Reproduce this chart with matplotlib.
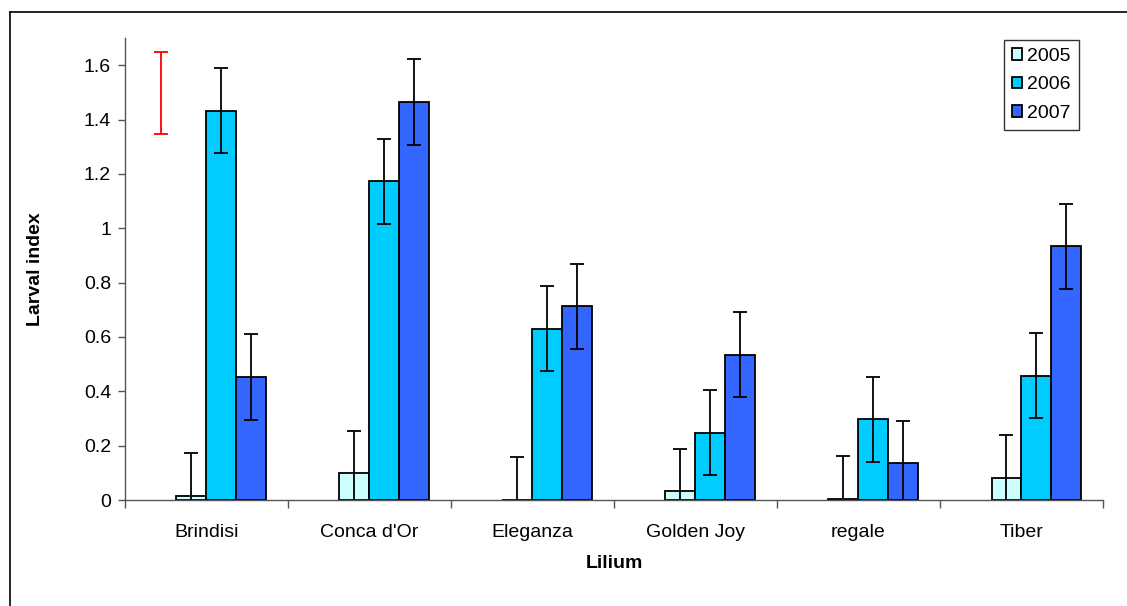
import numpy as np
import matplotlib
matplotlib.use('Agg')
import matplotlib.pyplot as plt
from matplotlib.lines import Line2D

plt.rcParams['font.family'] = ['Liberation Sans', 'DejaVu Sans']

# data
cultivars = ['Brindisi', "Conca d'Or", 'Eleganza', 'Golden Joy', 'regale', 'Tiber']
years = ['2005', '2006', '2007']
y2005 = [0.015, 0.098, 0.0, 0.032, 0.005, 0.082]
y2006 = [1.432, 1.172, 0.630, 0.248, 0.297, 0.458]
y2007 = [0.453, 1.465, 0.713, 0.535, 0.135, 0.933]
err = 0.157
# LSD bar (red), drawn in the empty first slot of the Brindisi group
lsd_mid = 1.497
lsd_half = 0.152

colors = ['#CCFFFF', '#00CCFF', '#3366FF']

fig = plt.figure(figsize=(11.27, 6.06), dpi=100)
ax = fig.add_axes([0.1109, 0.1749, 0.8678, 0.7624])

x = np.arange(len(cultivars))
w = 0.184
# 4 slots per group, the first one is empty (holds the LSD bar)
for i, (vals, c, lab) in enumerate(zip([y2005, y2006, y2007], colors, years)):
    pos = x + (i - 0.5) * w
    ax.bar(pos, vals, w, color=c, edgecolor='black', linewidth=1.3, label=lab, zorder=2)
    ax.errorbar(pos, vals, yerr=err, fmt='none', ecolor='black', elinewidth=1.3,
                capsize=4.7, capthick=1.3, zorder=3)

ax.errorbar([x[0] - 1.5 * w], [lsd_mid], yerr=lsd_half, fmt='none', ecolor='red',
            elinewidth=1.3, capsize=4.7, capthick=1.3, zorder=3)

ax.set_xlim(-0.5, 5.5)
ax.set_ylim(0, 1.7)
ax.set_yticks(np.arange(0, 1.61, 0.2))
ax.set_yticklabels(['0', '0.2', '0.4', '0.6', '0.8', '1', '1.2', '1.4', '1.6'])

ax.set_xticks(np.arange(-0.5, 5.6, 1))
ax.set_xticklabels([])
ax.set_xticks(x, minor=True)
ax.set_xticklabels(cultivars, minor=True)
ax.tick_params(axis='x', which='minor', length=0, pad=17.5, labelsize=14)
ax.tick_params(axis='x', which='major', length=6, width=1, color='#555555')
ax.tick_params(axis='y', length=5, width=1, color='#555555', labelsize=14, pad=5)

for s in ['top', 'right']:
    ax.spines[s].set_visible(False)
for s in ['left', 'bottom']:
    ax.spines[s].set_color('#555555')
    ax.spines[s].set_linewidth(1)
ax.spines['bottom'].set_zorder(4)

ax.set_xlabel('Lilium', fontsize=14, fontweight='bold', labelpad=10)
ax.set_ylabel('Larval index', fontsize=14, fontweight='bold', labelpad=29)

leg = ax.legend(loc='upper right', bbox_to_anchor=(0.975, 0.996), fontsize=14,
                frameon=True, fancybox=False, handlelength=0.55, handleheight=0.55,
                handletextpad=0.25, labelspacing=0.6, borderpad=0.4,
                borderaxespad=0)
leg.get_frame().set_edgecolor('black')
leg.get_frame().set_linewidth(1)

# outer chart border
fig.add_artist(Line2D([10 / 1127, 1], [1 - 12 / 606] * 2, color='black', lw=1.2))
fig.add_artist(Line2D([10 / 1127] * 2, [0, 1 - 12 / 606], color='black', lw=1.2))

fig.savefig('out.png', dpi=100)
